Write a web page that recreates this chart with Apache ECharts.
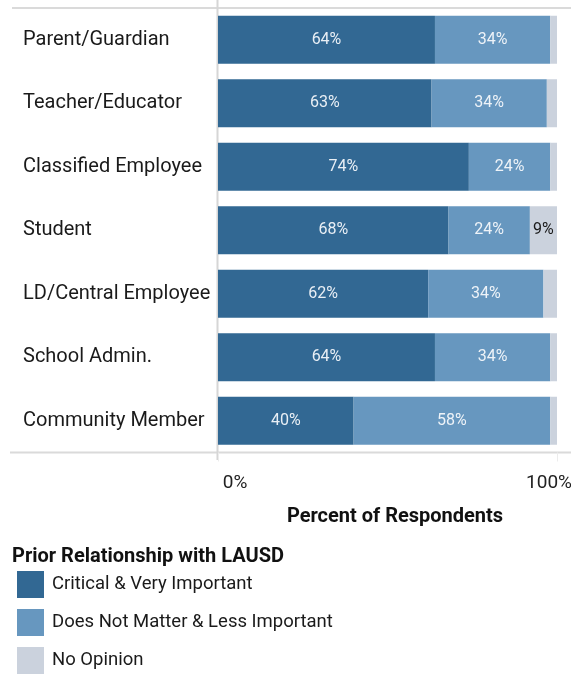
<!DOCTYPE html>
<html>
<head>
<meta charset="utf-8">
<title>Prior Relationship with LAUSD</title>
<script src="https://cdn.jsdelivr.net/npm/echarts@6/dist/echarts.min.js"></script>
<style>
  html, body { margin: 0; padding: 0; background: #ffffff; overflow: hidden; }
  #chart { width: 571px; height: 675px; }
</style>
</head>
<body>
<div id="chart"></div>
<script>
// Respondent groups, top to bottom
const categories = [
  'Parent/Guardian',
  'Teacher/Educator',
  'Classified Employee',
  'Student',
  'LD/Central Employee',
  'School Admin.',
  'Community Member'
];

// Share of respondents (%) in each rating group
const critical = [64, 63, 74, 68, 62, 64, 40];
const notMatter = [34, 34, 24, 24, 34, 34, 58];
const noOpinion = [2, 3, 2, 9, 4, 2, 2];

const seriesNames = [
  'Critical & Very Important',
  'Does Not Matter & Less Important',
  'No Opinion'
];
const xTicks = ['0%', '100%'];

const FONT = 'Roboto, "Liberation Sans", Arial, sans-serif';
const colors = ['#326893', '#6797bf', '#cbd2dd'];
const labelColors = ['#e9eff5', '#eef3f8', '#1a1a1a'];

function makeSeries(name, data, idx) {
  return {
    name: name,
    type: 'bar',
    stack: 'total',
    barWidth: 48,
    data: data,
    itemStyle: { color: colors[idx] },
    label: {
      show: true,
      position: 'inside',
      color: labelColors[idx],
      fontFamily: FONT,
      fontSize: 16,
      formatter: p => (p.value >= 5 ? p.value + '%' : '')
    },
    emphasis: { disabled: true }
  };
}

const chart = echarts.init(document.getElementById('chart'), null, { renderer: 'canvas' });

chart.setOption({
  animation: false,
  backgroundColor: '#ffffff',
  textStyle: { fontFamily: FONT },
  grid: {
    left: 218, right: 14, top: 8, height: 444.5,
    containLabel: false,
    outerBoundsMode: 'none'
  },
  xAxis: {
    type: 'value',
    min: 0,
    max: 100,
    interval: 100,
    splitLine: { show: false },
    axisLine: { show: false },
    axisTick: { show: true, length: 9, lineStyle: { color: '#ececec', width: 1 } },
    axisLabel: {
      margin: 21,
      fontFamily: FONT,
      fontSize: 19,
      color: '#222222',
      formatter: v => (v === 0 ? '{a|' + xTicks[0] + '}' : '{b|' + xTicks[1] + '}'),
      rich: {
        a: { fontFamily: FONT, fontSize: 19, color: '#222222', padding: [0, 0, 0, 34] },
        b: { fontFamily: FONT, fontSize: 19, color: '#222222', padding: [0, 16, 0, 0] }
      }
    },
    name: 'Percent of Respondents',
    nameLocation: 'middle',
    nameGap: 54,
    nameTextStyle: {
      fontFamily: FONT,
      fontSize: 20,
      fontWeight: 'bold',
      color: '#111111',
      padding: [0, 0, 0, 15]
    }
  },
  yAxis: {
    type: 'category',
    data: categories,
    inverse: true,
    axisLine: { show: false },
    axisTick: { show: false },
    axisLabel: {
      align: 'left',
      margin: 195,
      fontFamily: FONT,
      fontSize: 20,
      color: '#1a1a1a',
      padding: [4, 0, 0, 0]
    }
  },
  title: {
    text: 'Prior Relationship with LAUSD',
    left: 7,
    top: 542,
    textStyle: { fontFamily: FONT, fontSize: 20, fontWeight: 'bold', color: '#111111' }
  },
  legend: {
    orient: 'vertical',
    left: 17,
    top: 571,
    padding: 0,
    height: 110,
    itemWidth: 27,
    itemHeight: 27,
    itemGap: 11,
    icon: 'rect',
    selectedMode: false,
    data: seriesNames,
    textStyle: { fontFamily: FONT, fontSize: 18.5, color: '#1a1a1a', padding: [2, 0, 0, 3] }
  },
  graphic: [
    { type: 'line', shape: { x1: 12, y1: 8, x2: 571, y2: 8 }, style: { stroke: '#dadada', lineWidth: 2 }, silent: true },
    { type: 'line', shape: { x1: 10, y1: 452.5, x2: 571, y2: 452.5 }, style: { stroke: '#dadada', lineWidth: 2 }, silent: true },
    { type: 'line', shape: { x1: 217.5, y1: 0, x2: 217.5, y2: 460 }, style: { stroke: '#d6d6d6', lineWidth: 2 }, silent: true }
  ],
  series: [
    makeSeries(seriesNames[0], critical, 0),
    makeSeries(seriesNames[1], notMatter, 1),
    makeSeries(seriesNames[2], noOpinion, 2)
  ]
});
</script>
</body>
</html>
